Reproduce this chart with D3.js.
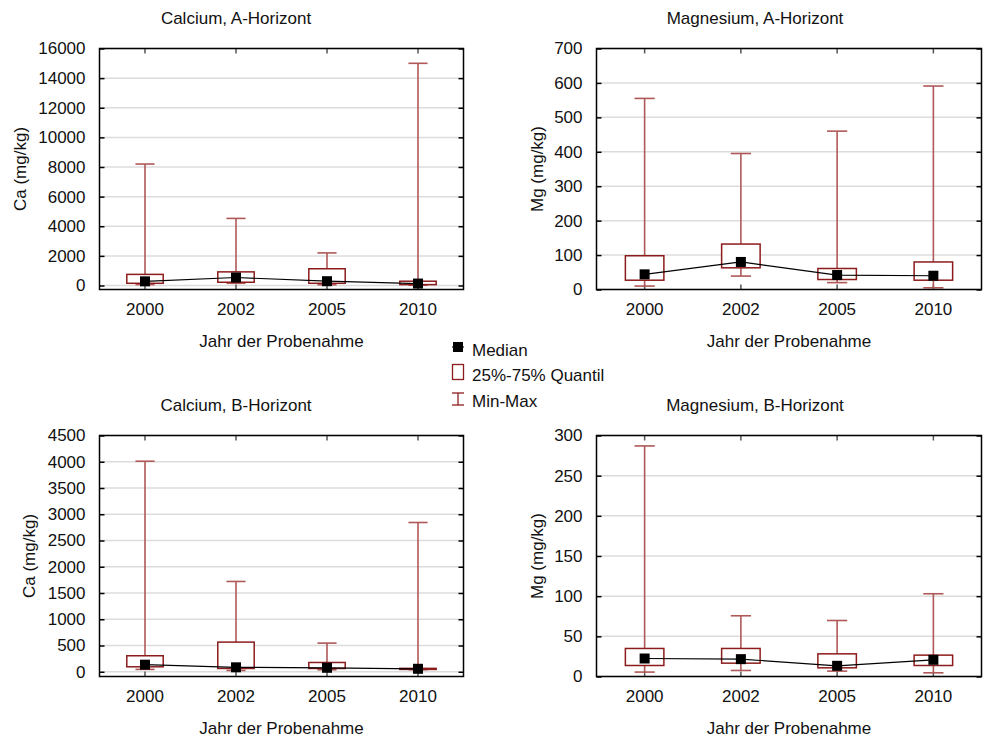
<!DOCTYPE html>
<html>
<head>
<meta charset="utf-8">
<script src="https://cdn.jsdelivr.net/npm/d3@7"></script>
<style>
  html, body { margin: 0; padding: 0; background: #fff; }
  svg { display: block; font-family: "Liberation Sans", Arial, sans-serif; }
</style>
</head>
<body>
<svg id="chart" width="983" height="739"></svg>
<script>
// Sampling years (x categories)
const years = ["2000", "2002", "2005", "2010"];

// Statistics per year, columns: [min, q25, median, q75, max] in mg/kg
const caA = [
  [60, 150, 280, 750, 8200],
  [150, 220, 540, 920, 4530],
  [50, 150, 290, 1130, 2200],
  [20, 60, 130, 290, 15000]
];
const mgA = [
  [10, 27, 44, 98, 555],
  [39, 63, 80, 132, 395],
  [20, 29, 42, 61, 460],
  [5, 27, 40, 80, 591]
];
const caB = [
  [45, 95, 135, 305, 4010],
  [25, 63, 85, 565, 1720],
  [38, 63, 76, 177, 546],
  [40, 45, 57, 65, 2843]
];
const mgB = [
  [5.5, 13.7, 22.4, 34.9, 287],
  [7.5, 16.6, 21.6, 34.9, 75.6],
  [6.7, 10.8, 13.3, 28.2, 69.7],
  [4.6, 13.7, 20.8, 26.6, 103]
];

// Y tick values for each panel
const caATicks = [0, 2000, 4000, 6000, 8000, 10000, 12000, 14000, 16000];
const mgATicks = [0, 100, 200, 300, 400, 500, 600, 700];
const caBTicks = [0, 500, 1000, 1500, 2000, 2500, 3000, 3500, 4000, 4500];
const mgBTicks = [0, 50, 100, 150, 200, 250, 300];

const BOX_COLOR = "#8c1c1c";
const WHISKER_COLOR = "#b05858";
const FONT = 17;

const svg = d3.select("#chart");

const panels = [
  { title: "Calcium, A-Horizont", ylab: "Ca (mg/kg)", data: caA, ticks: caATicks,
    domain: [-270, 16000], x0: 99.5, x1: 463.5, y0: 48.5, y1: 289.5,
    titleX: 236, titleY: 18, ylabX: 20, xlabY: 341 },
  { title: "Magnesium, A-Horizont", ylab: "Mg (mg/kg)", data: mgA, ticks: mgATicks,
    domain: [0, 700], x0: 596.5, x1: 981.5, y0: 48.5, y1: 289.5,
    titleX: 755, titleY: 18, ylabX: 537, xlabY: 341 },
  { title: "Calcium, B-Horizont", ylab: "Ca (mg/kg)", data: caB, ticks: caBTicks,
    domain: [-90, 4500], x0: 99.5, x1: 463.5, y0: 435.5, y1: 676.5,
    titleX: 236, titleY: 405, ylabX: 29, xlabY: 728 },
  { title: "Magnesium, B-Horizont", ylab: "Mg (mg/kg)", data: mgB, ticks: mgBTicks,
    domain: [0, 300], x0: 596.5, x1: 981.5, y0: 435.5, y1: 676.5,
    titleX: 755, titleY: 405, ylabX: 537, xlabY: 728 }
];

panels.forEach(p => {
  const g = svg.append("g");
  const x = d3.scaleBand().domain(years).range([p.x0, p.x1]).padding(0);
  const y = d3.scaleLinear().domain(p.domain).range([p.y1, p.y0]);
  const bw = x.bandwidth();
  const boxW = bw * 0.4;
  const capW = bw * 0.21;
  const cx = d => x(d) + bw / 2;

  // horizontal grid
  g.append("g").selectAll("line").data(p.ticks).join("line")
    .attr("x1", p.x0).attr("x2", p.x1)
    .attr("y1", d => y(d)).attr("y2", d => y(d))
    .attr("stroke", "#dcdcdc").attr("stroke-width", 1.5);

  // left axis with inward ticks
  const left = g.append("g").attr("transform", `translate(${p.x0},0)`)
    .call(d3.axisLeft(y).tickValues(p.ticks).tickSizeInner(-5).tickSizeOuter(0).tickPadding(14).tickFormat(d3.format("d")));
  left.select(".domain").remove();
  left.selectAll("line").attr("stroke", "#000").attr("stroke-width", 1.5);
  left.selectAll("text").attr("font-size", FONT).attr("fill", "#111").attr("font-family", "Liberation Sans, Arial, sans-serif");

  // right edge ticks
  const right = g.append("g").attr("transform", `translate(${p.x1},0)`)
    .call(d3.axisRight(y).tickValues(p.ticks).tickSizeInner(-5).tickSizeOuter(0).tickFormat(""));
  right.select(".domain").remove();
  right.selectAll("line").attr("stroke", "#000").attr("stroke-width", 1.5);

  // bottom axis with category labels
  const bottom = g.append("g").attr("transform", `translate(0,${p.y1})`)
    .call(d3.axisBottom(x).tickSizeInner(-5).tickSizeOuter(0).tickPadding(13));
  bottom.select(".domain").remove();
  bottom.selectAll("line").attr("stroke", "#555").attr("stroke-width", 1.5);
  bottom.selectAll("text").attr("font-size", FONT).attr("fill", "#111").attr("font-family", "Liberation Sans, Arial, sans-serif");

  // top ticks
  const top = g.append("g").attr("transform", `translate(0,${p.y0})`)
    .call(d3.axisTop(x).tickSizeInner(-5).tickSizeOuter(0).tickFormat(""));
  top.select(".domain").remove();
  top.selectAll("line").attr("stroke", "#555").attr("stroke-width", 1.5);

  // whiskers (min-max)
  const rows = p.data.map((r, i) => ({ year: years[i], min: r[0], q1: r[1], med: r[2], q3: r[3], max: r[4] }));
  const wg = g.append("g").attr("stroke", WHISKER_COLOR).attr("stroke-width", 1.6);
  wg.selectAll(".stem").data(rows).join("line").attr("class", "stem")
    .attr("x1", d => cx(d.year)).attr("x2", d => cx(d.year))
    .attr("y1", d => y(d.min)).attr("y2", d => y(d.max));
  wg.selectAll(".capmax").data(rows).join("line").attr("class", "capmax")
    .attr("x1", d => cx(d.year) - capW / 2).attr("x2", d => cx(d.year) + capW / 2)
    .attr("y1", d => y(d.max)).attr("y2", d => y(d.max));
  wg.selectAll(".capmin").data(rows).join("line").attr("class", "capmin")
    .attr("x1", d => cx(d.year) - capW / 2).attr("x2", d => cx(d.year) + capW / 2)
    .attr("y1", d => y(d.min)).attr("y2", d => y(d.min));

  // quartile boxes
  g.append("g").selectAll("rect").data(rows).join("rect")
    .attr("x", d => cx(d.year) - boxW / 2).attr("width", boxW)
    .attr("y", d => y(d.q3)).attr("height", d => y(d.q1) - y(d.q3))
    .attr("fill", "#fff").attr("stroke", BOX_COLOR).attr("stroke-width", 1.5);

  // median line and markers
  g.append("path").datum(rows)
    .attr("d", d3.line().x(d => cx(d.year)).y(d => y(d.med)))
    .attr("fill", "none").attr("stroke", "#000").attr("stroke-width", 1.2);
  g.append("g").selectAll("rect").data(rows).join("rect")
    .attr("x", d => cx(d.year) - 5).attr("y", d => y(d.med) - 5)
    .attr("width", 10).attr("height", 10).attr("fill", "#000");

  // frame
  g.append("rect").attr("x", p.x0).attr("y", p.y0)
    .attr("width", p.x1 - p.x0).attr("height", p.y1 - p.y0)
    .attr("fill", "none").attr("stroke", "#000").attr("stroke-width", 1.5);

  // titles
  g.append("text").attr("x", p.titleX).attr("y", p.titleY).attr("dy", "0.35em")
    .attr("text-anchor", "middle").attr("font-size", FONT).attr("fill", "#111").text(p.title);
  g.append("text").attr("x", (p.x0 + p.x1) / 2).attr("y", p.xlabY).attr("dy", "0.35em")
    .attr("text-anchor", "middle").attr("font-size", FONT).attr("fill", "#111").text("Jahr der Probenahme");
  g.append("text")
    .attr("transform", `translate(${p.ylabX},${(p.y0 + p.y1) / 2}) rotate(-90)`)
    .attr("dy", "0.35em").attr("text-anchor", "middle").attr("font-size", FONT).attr("fill", "#111").text(p.ylab);
});

// legend
const legend = svg.append("g");
const lx = 458, tx = 472;
legend.append("line").attr("x1", lx - 6).attr("x2", lx + 6).attr("y1", 347).attr("y2", 347)
  .attr("stroke", "#000").attr("stroke-width", 1);
legend.append("rect").attr("x", lx - 5).attr("y", 342).attr("width", 10).attr("height", 10).attr("fill", "#000");
legend.append("text").attr("x", tx).attr("y", 350).attr("dy", "0.35em").attr("font-size", FONT).attr("fill", "#111").text("Median");

legend.append("rect").attr("x", lx - 5.5).attr("y", 364.5).attr("width", 11).attr("height", 15)
  .attr("fill", "#fff").attr("stroke", BOX_COLOR).attr("stroke-width", 1.3);
legend.append("text").attr("x", tx).attr("y", 375).attr("dy", "0.35em").attr("font-size", FONT).attr("fill", "#111").text("25%-75% Quantil");

legend.append("g").attr("stroke", BOX_COLOR).attr("stroke-width", 1.3).call(s => {
  s.append("line").attr("x1", lx).attr("x2", lx).attr("y1", 393).attr("y2", 405);
  s.append("line").attr("x1", lx - 6).attr("x2", lx + 6).attr("y1", 393).attr("y2", 393);
  s.append("line").attr("x1", lx - 6).attr("x2", lx + 6).attr("y1", 405).attr("y2", 405);
});
legend.append("text").attr("x", tx).attr("y", 401).attr("dy", "0.35em").attr("font-size", FONT).attr("fill", "#111").text("Min-Max");
</script>
</body>
</html>
